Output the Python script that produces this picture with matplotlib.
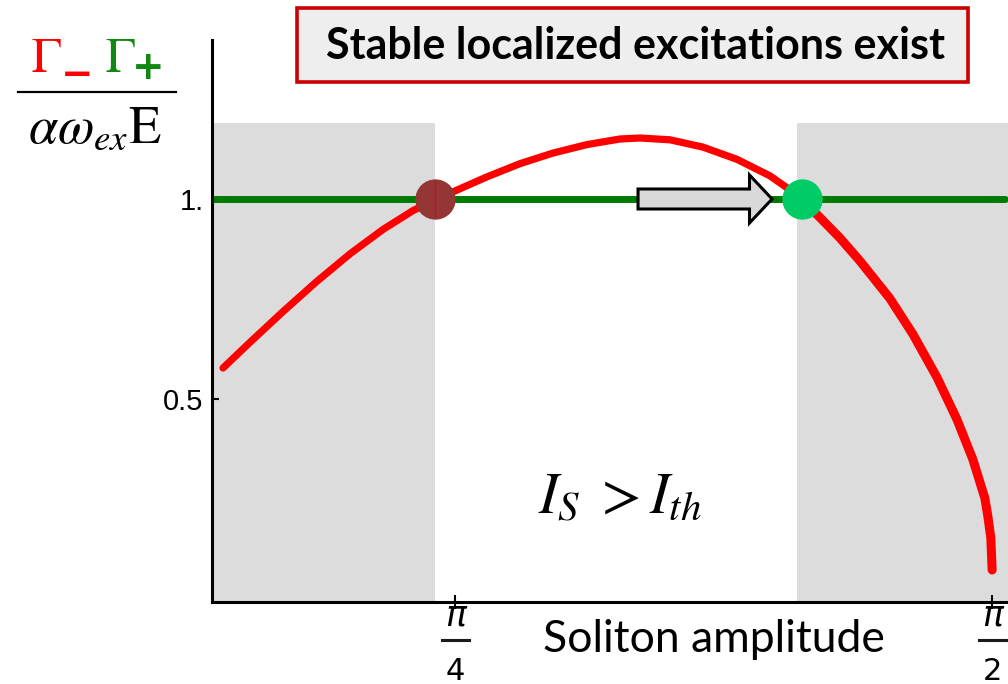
import numpy as np
import matplotlib
matplotlib.use("Agg")
import matplotlib.pyplot as plt
import matplotlib.transforms as mtransforms
from matplotlib.patches import Rectangle, FancyArrow
from matplotlib.lines import Line2D

# Gamma_- / Gamma_+ ratio vs soliton amplitude (rad)
amp = [0.4461, 0.4856, 0.5338, 0.5835, 0.6318, 0.6800, 0.7239, 0.7560, 0.7882, 0.8320,
       0.8803, 0.9285, 0.9782, 1.0265, 1.0557, 1.0996, 1.1478, 1.1975, 1.2458, 1.2692,
       1.2925, 1.3181, 1.3481, 1.3774, 1.4212, 1.4548, 1.4900, 1.5192, 1.5425, 1.5601,
       1.5645, 1.5689, 1.5708]
ratio = [0.5775, 0.6418, 0.7185, 0.7943, 0.8628, 0.9238, 0.9710, 0.9975, 1.0223, 1.0553,
         1.0883, 1.1148, 1.1360, 1.1500, 1.1525, 1.1480, 1.1298, 1.0993, 1.0580, 1.0300,
         0.9980, 0.9553, 0.9028, 0.8453, 0.7515, 0.6625, 0.5545, 0.4495, 0.3495, 0.2525,
         0.2075, 0.1525, 0.0725]
upper_branch = 20  # index of the upper crossing

threshold = 1.0
line_span = (0.430, 1.589)
shade_regions = [(0.430, 0.756), (1.285, 1.594)]
shade_top = 1.19
crossings = [0.756, 1.293]
cross_colors = ['#943634', '#00CC66']
arrow_span = (1.053, 1.249)

yticks = [0.5, 1.0]
ytick_labels = ['0.5', '1.']
xticks = [np.pi / 4, np.pi / 2]
xtick_num = ['\u03c0', '\u03c0']
xtick_den = ['4', '2']

W, H = 1008, 684
fig = plt.figure(figsize=(W / 100, H / 100), dpi=100)
ax = fig.add_axes([212 / W, (H - 602) / H, 796 / W, 562 / H])
ax.set_xlim(0.430, 1.594)
ax.set_ylim(-0.0075, 1.3975)

for x0, x1 in shade_regions:
    ax.fill_between([x0, x1], -0.0075, shade_top, color='#DCDCDC', lw=0, zorder=0)

ax.plot(line_span, [threshold, threshold], color='#007A00', lw=5, solid_capstyle='round', zorder=2)
ax.plot(amp, ratio, color='#FF0000', lw=5.2, solid_capstyle='round', zorder=3)
# falling branch is drawn heavier
ax.plot(amp[upper_branch:], ratio[upper_branch:], color='#FF0000', lw=6.5,
        solid_capstyle='round', zorder=3)

# arrow pointing to the upper crossing
ax.add_patch(FancyArrow(arrow_span[0], threshold, arrow_span[1] - arrow_span[0], 0,
                        width=0.05, head_width=0.12, head_length=0.033,
                        length_includes_head=True, fc='#D9D9D9', ec='black', lw=2.2, zorder=4))

for xc, col in zip(crossings, cross_colors):
    ax.plot([xc], [threshold], 'o', ms=29, color=col, mec='none', zorder=5)
ax.plot([crossings[0]] * 2, [threshold - 0.045, threshold + 0.045], color='#C0102A', lw=1, zorder=6)

for s in ['top', 'right']:
    ax.spines[s].set_visible(False)
for s in ['left', 'bottom']:
    ax.spines[s].set_linewidth(2.2)

ax.set_yticks(yticks)
ax.set_yticklabels(ytick_labels, fontsize=21, fontfamily='Liberation Sans')
ax.tick_params(axis='y', direction='in', length=5, width=1.5, pad=6)

# stacked fraction tick labels (pi over n)
ax.set_xticks(xticks)
ax.set_xticklabels([''] * len(xticks))
ax.tick_params(axis='x', direction='inout', length=10, width=1.5)
trans = mtransforms.blended_transform_factory(ax.transData, fig.transFigure)
for xt, num, den in zip(xticks, xtick_num, xtick_den):
    ax.text(xt, 1 - 616 / H, num, transform=trans, fontsize=25, style='italic',
            fontfamily='DejaVu Sans', ha='center', va='center', clip_on=False)
    ax.text(xt, 1 - 671 / H, den, transform=trans, fontsize=22,
            fontfamily='DejaVu Sans', ha='center', va='center', clip_on=False)
    half = 13.5 / 684
    ax.plot([xt - half, xt + half], [1 - 640 / H] * 2, transform=trans, color='#1a1a1a',
            lw=2.2, clip_on=False)

fig.text(714 / W, 1 - 640 / H, 'Soliton amplitude', fontsize=32, fontfamily='Lato',
         ha='center', va='center')

ax.text(1.0265, 0.255, r'$I_S\;>I_{th}$', fontsize=42, math_fontfamily='stix',
        ha='center', va='center')

# title box
fig.patches.append(Rectangle((297 / W, 1 - 82 / H), 671 / W, 74 / H, transform=fig.transFigure,
                             fc='#EEEEEE', ec='#CC0000', lw=2.6, zorder=1))
fig.text(636 / W, 1 - 46 / H, 'Stable localized excitations exist', fontsize=31,
         fontfamily='Lato', fontweight='bold', ha='center', va='center', zorder=2)

# y-axis label as a fraction
fig.text(46 / W, 1 - 72 / H, r'$\Gamma$', fontsize=36, math_fontfamily='stix',
         color='#FF0000', ha='center', va='baseline')
fig.text(77 / W, 1 - 75 / H, '\u2212', fontsize=28, fontfamily='DejaVu Sans',
         fontweight='bold', color='#FF0000', ha='center', va='center')
fig.text(120 / W, 1 - 72 / H, r'$\Gamma$', fontsize=36, math_fontfamily='stix',
         color='#118811', ha='center', va='baseline')
fig.text(148 / W, 1 - 68 / H, '+', fontsize=28, fontfamily='DejaVu Sans',
         fontweight='bold', color='#118811', ha='center', va='center')
fig.add_artist(Line2D([18 / W, 176 / W], [1 - 92 / H, 1 - 92 / H], color='black', lw=1.6,
                      transform=fig.transFigure))
fig.text(95 / W, 1 - 143 / H, r'$\alpha\omega_{ex}\mathrm{E}$', fontsize=38,
         math_fontfamily='stix', ha='center', va='baseline')

fig.savefig('out.png', dpi=100)
